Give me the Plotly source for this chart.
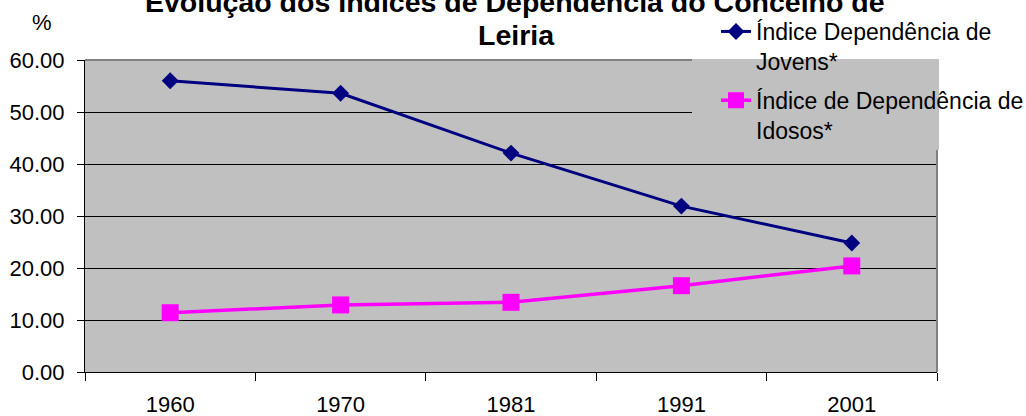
import plotly.graph_objects as go

anos = ["1960", "1970", "1981", "1991", "2001"]
jovens = [56.0, 53.6, 42.1, 31.9, 24.8]
idosos = [11.4, 12.9, 13.4, 16.6, 20.4]
nome_jovens = "Índice Dependência de<br>Jovens*"
nome_idosos = "Índice de Dependência de<br>Idosos*"
y_ticks = [0, 10, 20, 30, 40, 50, 60]
titulo_1 = "Evolução dos Índices de Dependência do Concelho de"
titulo_2 = "Leiria"

W, H = 1026, 416
L, R, T, B = 85, 937, 60, 372
FONT = "Liberation Sans, Arial, sans-serif"

def px_x(p):
    return (p - L) / (R - L)

def px_y(p):
    return (B - p) / (B - T)

fig = go.Figure()
fig.add_trace(go.Scatter(
    x=anos, y=jovens, name=nome_jovens, mode="lines+markers",
    legendgroup="a",
    line=dict(color="#000080", width=3),
    marker=dict(symbol="diamond", size=13, color="#000080"),
))
fig.add_trace(go.Scatter(
    x=anos, y=idosos, name=nome_idosos, mode="lines+markers",
    legendgroup="b",
    line=dict(color="#FF00FF", width=3.5),
    marker=dict(symbol="square", size=17, color="#FF00FF"),
))

shapes = [
    dict(type="line", xref="paper", yref="paper", x0=0, x1=1, y0=1, y1=1,
         line=dict(color="#808080", width=2), layer="above"),
    dict(type="line", xref="paper", yref="paper", x0=1, x1=1, y0=0, y1=1,
         line=dict(color="#808080", width=2), layer="above"),
    dict(type="rect", xref="paper", yref="paper", x0=px_x(692), x1=px_x(939),
         y0=px_y(150), y1=px_y(59), fillcolor="#C0C0C0", line=dict(width=0),
         layer="above"),
]

annotations = [
    dict(text="%", xref="paper", yref="paper", x=px_x(42), y=px_y(22),
         showarrow=False, font=dict(family=FONT, size=22, color="black"),
         xanchor="center", yanchor="middle"),
    dict(text="<b>%s</b>" % titulo_1, xref="paper", yref="paper",
         x=px_x(515), y=px_y(2), showarrow=False,
         font=dict(family=FONT, size=28.5, color="black"),
         xanchor="center", yanchor="middle"),
    dict(text="<b>%s</b>" % titulo_2, xref="paper", yref="paper",
         x=px_x(516), y=px_y(35), showarrow=False,
         font=dict(family=FONT, size=28.5, color="black"),
         xanchor="center", yanchor="middle"),
]

fig.update_layout(
    width=W, height=H,
    margin=dict(l=L, r=W - R, t=T, b=H - B, pad=0, autoexpand=False),
    paper_bgcolor="white", plot_bgcolor="#C0C0C0",
    font=dict(family=FONT, size=22, color="black"),
    showlegend=True,
    legend=dict(x=px_x(716), y=px_y(10), xanchor="left", yanchor="top",
                xref="paper", yref="paper", valign="top",
                bgcolor="rgba(0,0,0,0)", borderwidth=0,
                font=dict(family=FONT, size=23, color="black"),
                tracegroupgap=6, itemsizing="trace"),
    shapes=shapes, annotations=annotations,
)
fig.update_xaxes(
    type="category", tickson="boundaries", ticks="outside", ticklen=8,
    tickcolor="black", tickwidth=1, showgrid=False, showline=True,
    linecolor="black", linewidth=1, range=[-0.5, 4.5], automargin=False,
    tickfont=dict(family=FONT, size=22), ticklabelstandoff=13,
)
fig.update_yaxes(
    range=[0, 60], tickvals=y_ticks, tickformat=".2f", ticks="outside",
    ticklen=7, tickcolor="black", showgrid=True, gridcolor="black",
    gridwidth=1, showline=True, linecolor="black", linewidth=1,
    zeroline=False, automargin=False,
    tickfont=dict(family=FONT, size=22), ticklabelstandoff=8,
)

fig.write_html(
    "out.html",
    config={"displayModeBar": False},
    post_script="document.body.style.margin='0';document.body.style.overflow='hidden';",
)
